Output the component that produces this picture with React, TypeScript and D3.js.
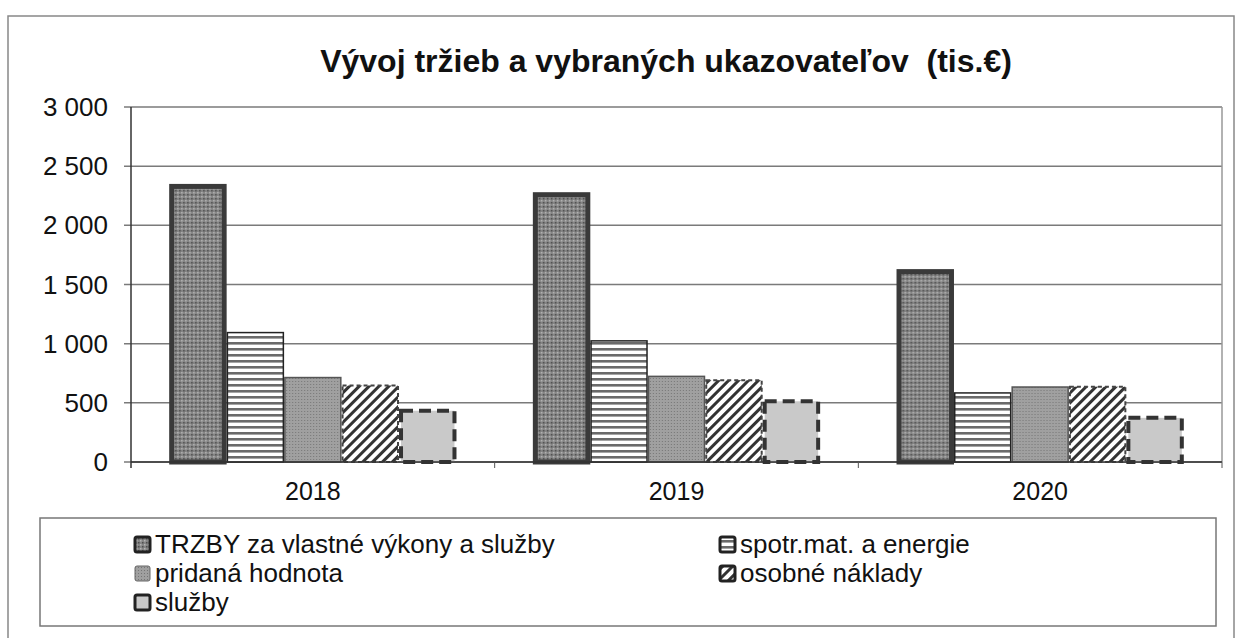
import * as d3 from 'd3'
import React from 'react'

// data (tis. €)
const years = ['2018', '2019', '2020']
const seriesNames = [
    'TRZBY za vlastné výkony a služby',
    'spotr.mat. a energie',
    'pridaná hodnota',
    'osobné náklady',
    'služby',
]
const trzby = [2350, 2280, 1630]
const spotrMat = [1100, 1030, 590]
const pridana = [720, 730, 640]
const osobne = [655, 700, 645]
const sluzby = [450, 530, 390]
const yTicks = [0, 500, 1000, 1500, 2000, 2500, 3000]

const seriesValues = [trzby, spotrMat, pridana, osobne, sluzby]

// look of each series: fill pattern + outline
const seriesStyle = [
    { fill: 'url(#pDots)', stroke: '#3a3a3a', width: 5, dash: '' },
    { fill: 'url(#pStripes)', stroke: '#222', width: 1.5, dash: '' },
    { fill: 'url(#pGrey)', stroke: '#555', width: 1.5, dash: '' },
    { fill: 'url(#pHatch)', stroke: '#444', width: 2, dash: '4,3' },
    { fill: '#c9c9c9', stroke: '#333', width: 4, dash: '12,6' },
]

const W = 1240
const H = 638
const margin = { left: 131, right: 1222, top: 107, bottom: 462 }
const font = '"Liberation Sans", Arial, sans-serif'

const App = (): JSX.Element => {
    const x = d3
        .scaleBand()
        .domain(years)
        .range([margin.left, margin.right])
        .paddingInner(0.21)
        .paddingOuter(0.105)
    const xInner = d3
        .scaleBand()
        .domain(seriesNames)
        .range([0, x.bandwidth()])
        .padding(0)
    const y = d3.scaleLinear().domain([0, 3000]).range([margin.bottom, margin.top])
    const fmt = (v: number) => d3.format(',')(v).replace(',', ' ')

    const step = x.step()
    const legendRows = [
        { i: 0, x: 135, y: 544 },
        { i: 1, x: 720, y: 544 },
        { i: 2, x: 135, y: 573 },
        { i: 3, x: 720, y: 573 },
        { i: 4, x: 135, y: 602 },
    ]

    return (
        <svg width={W} height={H} style={{ position: 'absolute', left: 0, top: 0, background: '#fff' }} fontFamily={font}>
            <defs>
                <pattern id="pDots" width="4" height="4" patternUnits="userSpaceOnUse">
                    <rect width="4" height="4" fill="#858585" />
                    <rect x="0" y="0" width="1.5" height="1.5" fill="#b5b5b5" />
                    <rect x="2" y="2" width="1.5" height="1.5" fill="#4e4e4e" />
                </pattern>
                <pattern id="pStripes" width="6" height="6" patternUnits="userSpaceOnUse">
                    <rect width="6" height="6" fill="#fff" />
                    <rect y="0" width="6" height="2.6" fill="#6a6a6a" />
                </pattern>
                <pattern id="pGrey" width="3" height="3" patternUnits="userSpaceOnUse">
                    <rect width="3" height="3" fill="#a0a0a0" />
                    <rect x="0" y="0" width="1" height="1" fill="#767676" />
                </pattern>
                <pattern id="pHatch" width="7" height="7" patternUnits="userSpaceOnUse" patternTransform="rotate(45)">
                    <rect width="7" height="7" fill="#fff" />
                    <rect x="0" y="0" width="3" height="7" fill="#333" />
                </pattern>
            </defs>

            {/* outer chart frame */}
            <rect x={8} y={16} width={1226} height={640} fill="none" stroke="#888" strokeWidth={1.5} />

            <text x={666} y={72} textAnchor="middle" fontSize={32} fontWeight="bold" fill="#111" xmlSpace="preserve">
                {'Vývoj tržieb a vybraných ukazovateľov  (tis.€)'}
            </text>

            {/* gridlines */}
            {yTicks.map((t) => (
                <line key={t} x1={margin.left - 7} x2={margin.right} y1={y(t)} y2={y(t)} stroke="#7a7a7a" strokeWidth={1.5} />
            ))}
            <line x1={margin.right} x2={margin.right} y1={y(3000)} y2={y(0)} stroke="#999" strokeWidth={1.5} />

            {/* y tick labels */}
            {yTicks.map((t) => (
                <text key={t} x={108} y={y(t)} dy="0.35em" textAnchor="end" fontSize={26} fill="#111">
                    {fmt(t)}
                </text>
            ))}

            {/* bars */}
            {years.map((yr, yi) => (
                <g key={yr} transform={`translate(${x(yr)},0)`}>
                    {seriesNames.map((s, si) => {
                        const st = seriesStyle[si]
                        const v = seriesValues[si][yi]
                        const half = st.width / 2
                        return (
                            <rect
                                key={s}
                                x={(xInner(s) as number) + half}
                                y={y(v) + half}
                                width={xInner.bandwidth() - st.width}
                                height={y(0) - y(v) - half}
                                fill={st.fill}
                                stroke={st.stroke}
                                strokeWidth={st.width}
                                strokeDasharray={st.dash}
                            />
                        )
                    })}
                </g>
            ))}

            {/* axes */}
            <line x1={margin.left} x2={margin.left} y1={y(3000)} y2={y(0) + 6} stroke="#333" strokeWidth={1.5} />
            <line x1={margin.left} x2={margin.right} y1={y(0)} y2={y(0)} stroke="#333" strokeWidth={1.5} />
            {[1, 2, 3].map((k) => (
                <line
                    key={k}
                    x1={margin.left + step * k}
                    x2={margin.left + step * k}
                    y1={y(0)}
                    y2={y(0) + 6}
                    stroke="#555"
                    strokeWidth={1}
                />
            ))}
            {years.map((yr) => (
                <text
                    key={yr}
                    x={(x(yr) as number) + x.bandwidth() / 2}
                    y={500}
                    textAnchor="middle"
                    fontSize={25}
                    fill="#111"
                >
                    {yr}
                </text>
            ))}

            {/* legend */}
            <rect x={40} y={518} width={1176} height={108} fill="none" stroke="#777" strokeWidth={1.5} />
            {legendRows.map((r) => {
                const st = seriesStyle[r.i]
                return (
                    <g key={r.i}>
                        <rect
                            x={r.x}
                            y={r.y - 7}
                            width={15}
                            height={15}
                            rx={2}
                            fill={st.fill}
                            stroke={r.i === 2 ? '#666' : '#222'}
                            strokeWidth={r.i === 2 ? 1 : 3}
                        />
                        <text x={r.x + 20} y={r.y} dy="0.35em" fontSize={26} fill="#111">
                            {seriesNames[r.i]}
                        </text>
                    </g>
                )
            })}
        </svg>
    )
}

export default App
